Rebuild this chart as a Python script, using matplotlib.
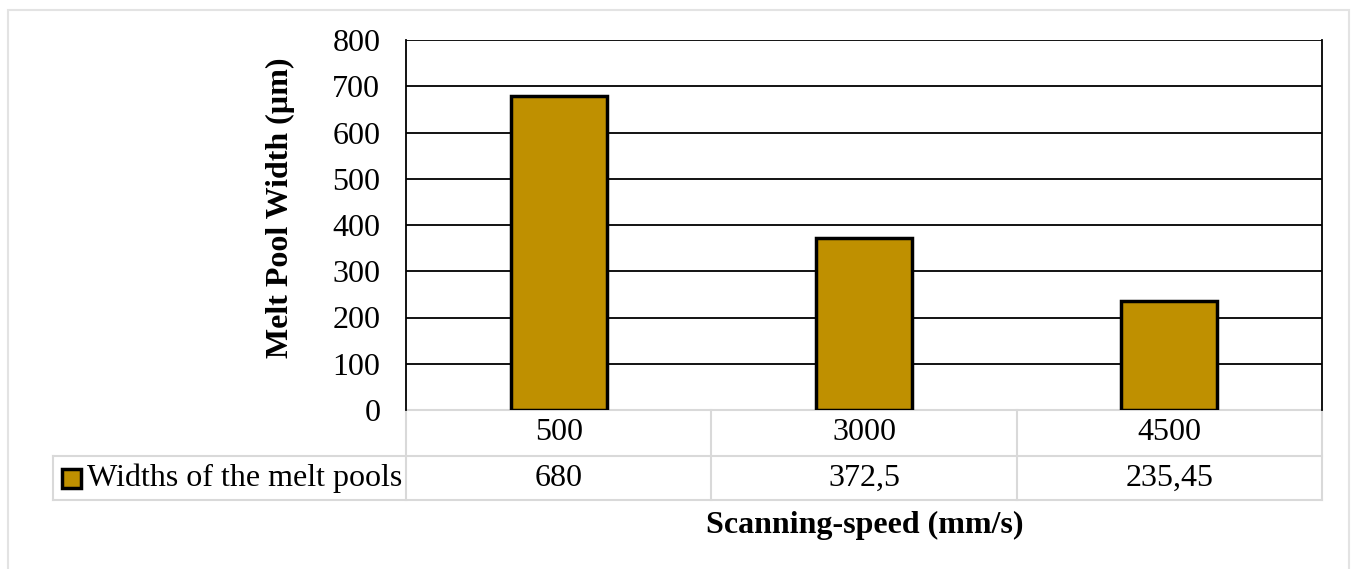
import matplotlib.pyplot as plt
from matplotlib.patches import Rectangle
from matplotlib.lines import Line2D

speeds = ["500", "3000", "4500"]
widths = [680, 372.5, 235.45]
width_labels = ["680", "372,5", "235,45"]
series_name = "Widths of the melt pools"
yticks = [0, 100, 200, 300, 400, 500, 600, 700, 800]

gold = "#BF9000"
grid_grey = "#D9D9D9"

plt.rcParams["font.family"] = ["Liberation Serif", "DejaVu Serif"]

W, H = 1351, 569
fs = 23
fig = plt.figure(figsize=(W / 100, H / 100), dpi=100)

# outer chart border
fig.add_artist(Rectangle((8 / W, -0.05), (1349 - 8) / W, 1.05 - 10 / H,
                         transform=fig.transFigure, fill=False,
                         edgecolor="#E3E3E3", linewidth=1.5))

ax = fig.add_axes([406 / W, 1 - 410 / H, (1322 - 406) / W, 370 / H])
x = range(len(speeds))
ax.bar(x, widths, width=0.315, color=gold, edgecolor="black", linewidth=2.5, zorder=3)
ax.set_xlim(-0.5, 2.5)
ax.set_ylim(0, 800)
ax.set_yticks(yticks)
ax.set_yticklabels([str(t) for t in yticks], fontsize=fs)
ax.tick_params(axis="y", length=0, pad=18.5)
ax.set_xticks([])
for t in yticks[1:]:
    ax.axhline(t, color="black", linewidth=1.3, zorder=1)
for side in ["left", "right"]:
    ax.spines[side].set_linewidth(1.3)
ax.spines["top"].set_visible(False)
ax.spines["bottom"].set_visible(False)

fig.text(280 / W, 1 - 208 / H, "Melt Pool Width (µm)", rotation=90,
         ha="center", va="center", fontsize=fs, fontweight="bold")

# data table below the plot
tr = ax.get_xaxis_transform()
r1 = -46 / 370
r2 = -90 / 370
px = 916 / 3
left_cell = -0.5 - (406 - 53) / px
kw = dict(transform=tr, color=grid_grey, linewidth=1.5, clip_on=False)
ax.add_line(Line2D([-0.5, 2.5], [0, 0], **kw))
ax.add_line(Line2D([left_cell, 2.5], [r1, r1], **kw))
ax.add_line(Line2D([left_cell, 2.5], [r2, r2], **kw))
ax.add_line(Line2D([left_cell, left_cell], [r1, r2], **kw))
for b in [-0.5, 0.5, 1.5, 2.5]:
    ax.add_line(Line2D([b, b], [0, r2], **kw))

for i, (s, v) in enumerate(zip(speeds, width_labels)):
    ax.text(i, r1 / 2, s, transform=tr, ha="center", va="center", fontsize=fs)
    ax.text(i, (r1 + r2) / 2, v, transform=tr, ha="center", va="center", fontsize=fs)

# legend key inside the table
ax.add_patch(Rectangle((-0.5 - (406 - 62) / px, (r1 + r2) / 2 - 9.5 / 370), 19 / px, 19 / 370,
                       transform=tr, facecolor=gold, edgecolor="black",
                       linewidth=2.5, clip_on=False))
ax.text(-0.5 - (406 - 87) / px, (r1 + r2) / 2, series_name, transform=tr,
        ha="left", va="center", fontsize=fs)

fig.text(865 / W, 1 - 525 / H, "Scanning-speed (mm/s)", ha="center", va="center",
         fontsize=fs, fontweight="bold")

fig.savefig("out.png", dpi=100)
